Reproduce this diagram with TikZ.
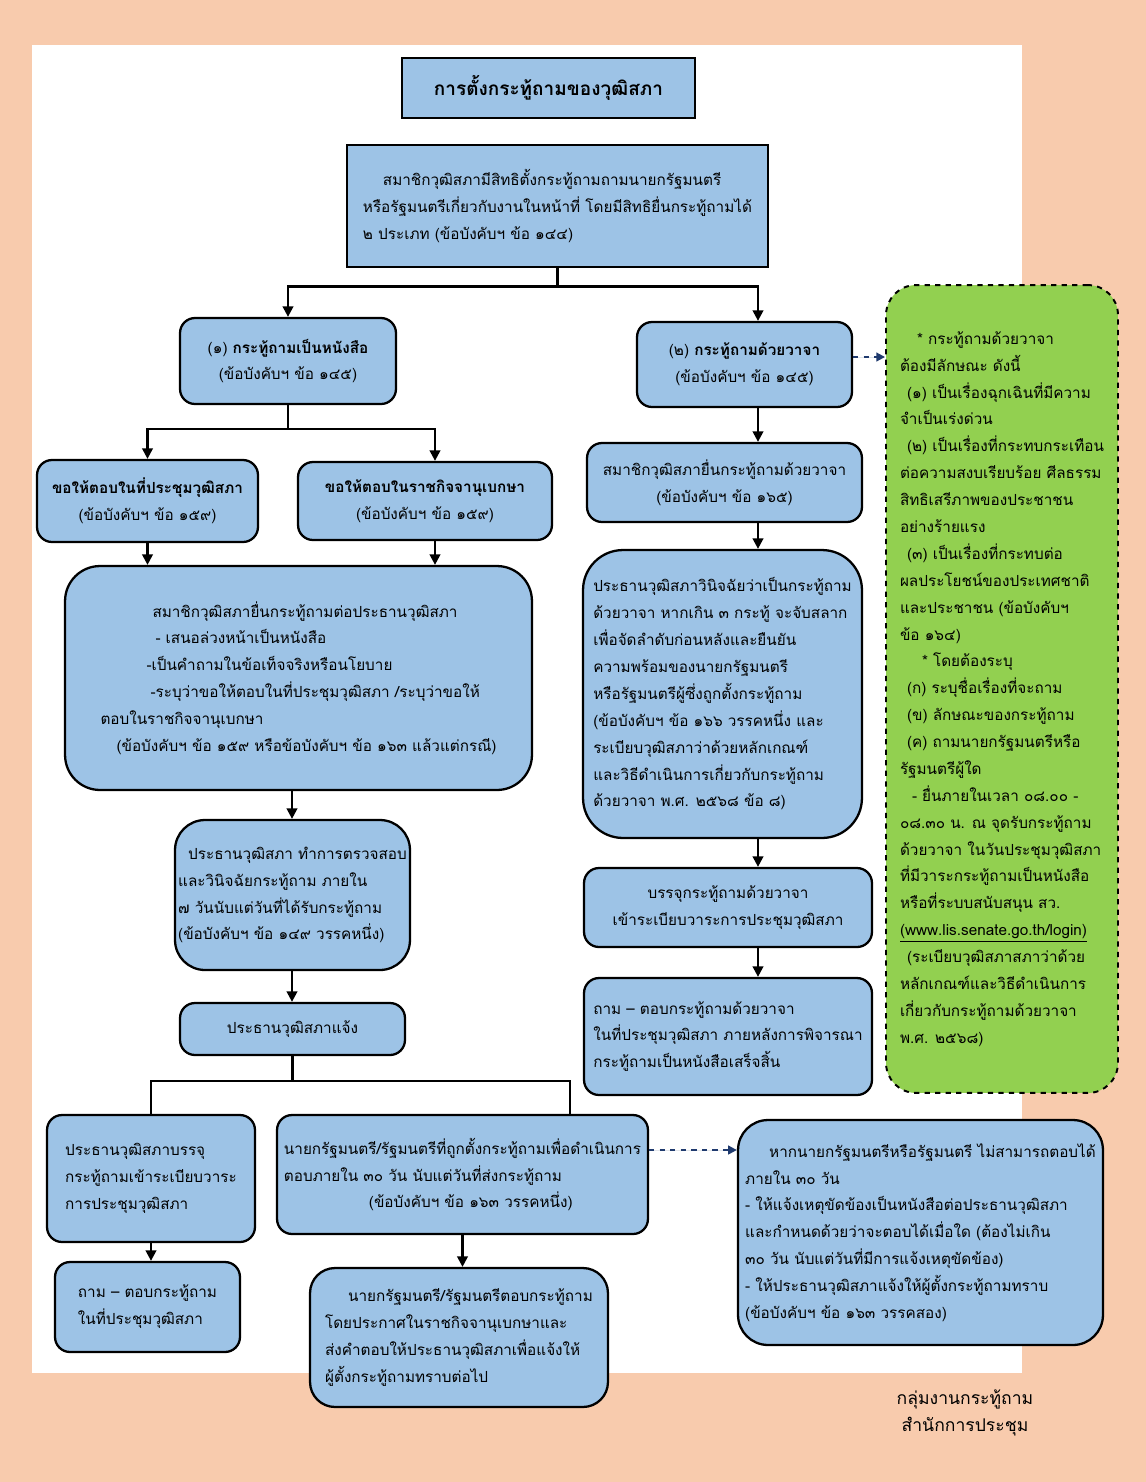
\documentclass[tikz,border=0pt]{standalone}
\usepackage{fontspec}
\setmainfont{Loma}[Script=Thai]
\usetikzlibrary{arrows.meta, positioning, backgrounds, calc}
\definecolor{boxblue}{HTML}{9DC3E6}
\definecolor{notegreen}{HTML}{92D050}
\definecolor{peach}{HTML}{F8CBAD}
\definecolor{navy}{HTML}{1F3A6E}

\begin{document}
\begin{tikzpicture}[
    x=0.02cm, y=-0.02cm,
    font=\fontsize{8.7}{15.3}\selectfont,
    box/.style={
        rectangle, draw=black, line width=1.3pt, rounded corners=0.3cm,
        fill=boxblue, align=left, inner sep=0pt
    },
    flat/.style={box, rounded corners=0pt, line width=1.6pt},
    note/.style={box, fill=notegreen, dashed, line width=1.1pt,
        rounded corners=0.6cm},
    arr/.style={-{Triangle[length=6pt,width=6pt]}, line width=1.3pt},
    line/.style={line width=1.3pt},
    dasharr/.style={-{Triangle[length=5pt,width=5pt]}, dashed,
        line width=1.1pt, draw=navy, fill=navy}
]
\useasboundingbox (0,0) rectangle (1146,1482);

% Page background and white sheet
\fill[peach] (0,0) rectangle (1146,1482);
\fill[white] (32,45) rectangle (1022,1373);

% Heading and introduction
\node[flat, minimum width=5.86cm, minimum height=1.2cm,
    font=\fontsize{10.8}{14}\selectfont\bfseries] (title) at (548.5,88)
    {การตั้งกระทู้ถามของวุฒิสภา};
\node[flat, minimum width=8.42cm, minimum height=2.44cm] (intro) at (557.5,206)
    {\hspace*{0.4cm}สมาชิกวุฒิสภามีสิทธิตั้งกระทู้ถามถามนายกรัฐมนตรี\\
     หรือรัฐมนตรีเกี่ยวกับงานในหน้าที่ โดยมีสิทธิยื่นกระทู้ถามได้\\
     ๒ ประเภท (ข้อบังคับฯ ข้อ ๑๔๔)};

% The two kinds of question
\node[box, align=center, minimum width=4.32cm, minimum height=1.72cm]
    (box1) at (288,361)
    {(๑) \textbf{กระทู้ถามเป็นหนังสือ}\\(ข้อบังคับฯ ข้อ ๑๔๕)};
\node[box, align=center, minimum width=4.3cm, minimum height=1.7cm]
    (box2) at (744.5,364.5)
    {(๒) \textbf{กระทู้ถามด้วยวาจา}\\(ข้อบังคับฯ ข้อ ๑๔๕)};

% Written question branch
\node[box, align=center, minimum width=4.42cm, minimum height=1.64cm]
    (ask1) at (147.5,501)
    {\textbf{ขอให้ตอบในที่ประชุมวุฒิสภา}\\(ข้อบังคับฯ ข้อ ๑๕๙)};
\node[box, align=center, minimum width=5.08cm, minimum height=1.56cm]
    (ask2) at (425,501)
    {\textbf{ขอให้ตอบในราชกิจจานุเบกษา}\\(ข้อบังคับฯ ข้อ ๑๕๙)};
\node[box, rounded corners=0.7cm, minimum width=9.34cm, minimum height=4.48cm]
    (submit) at (298.5,678)
    {\hspace*{1.04cm}สมาชิกวุฒิสภายื่นกระทู้ถามต่อประธานวุฒิสภา\\
     \hspace*{1.1cm}- เสนอล่วงหน้าเป็นหนังสือ\\
     \hspace*{0.92cm}-เป็นคำถามในข้อเท็จจริงหรือนโยบาย\\
     \hspace*{1.0cm}-ระบุว่าขอให้ตอบในที่ประชุมวุฒิสภา /ระบุว่าขอให้\\
     ตอบในราชกิจจานุเบกษา\\
     \hspace*{0.32cm}(ข้อบังคับฯ ข้อ ๑๕๙ หรือข้อบังคับฯ ข้อ ๑๖๓ แล้วแต่กรณี)};
\node[box, rounded corners=0.6cm, minimum width=4.7cm, minimum height=3.0cm]
    (check) at (292.5,895)
    {\hspace*{0.2cm}ประธานวุฒิสภา ทำการตรวจสอบ\\
     และวินิจฉัยกระทู้ถาม ภายใน\\
     ๗ วันนับแต่วันที่ได้รับกระทู้ถาม\\
     (ข้อบังคับฯ ข้อ ๑๔๙ วรรคหนึ่ง)};
\node[box, align=center, minimum width=4.5cm, minimum height=1.04cm]
    (notify) at (292.5,1029) {ประธานวุฒิสภาแจ้ง};
\node[box, minimum width=4.16cm, minimum height=2.54cm] (place) at (151,1178.5)
    {ประธานวุฒิสภาบรรจุ\\กระทู้ถามเข้าระเบียบวาระ\\การประชุมวุฒิสภา};
\node[box, minimum width=7.42cm, minimum height=2.38cm] (answer30)
    at (462.5,1174.5)
    {นายกรัฐมนตรี/รัฐมนตรีที่ถูกตั้งกระทู้ถามเพื่อดำเนินการ\\
     ตอบภายใน ๓๐ วัน นับแต่วันที่ส่งกระทู้ถาม\\
     \hspace*{1.7cm}(ข้อบังคับฯ ข้อ ๑๖๓ วรรคหนึ่ง)};
\node[box, minimum width=3.7cm, minimum height=1.8cm] (qa1) at (147.5,1307)
    {ถาม – ตอบกระทู้ถาม\\ในที่ประชุมวุฒิสภา};
\node[box, rounded corners=0.5cm, minimum width=5.96cm, minimum height=2.78cm]
    (reply) at (459,1337.5)
    {\hspace*{0.46cm}นายกรัฐมนตรี/รัฐมนตรีตอบกระทู้ถาม\\
     โดยประกาศในราชกิจจานุเบกษาและ\\
     ส่งคำตอบให้ประธานวุฒิสภาเพื่อแจ้งให้\\
     ผู้ตั้งกระทู้ถามทราบต่อไป};
\node[box, rounded corners=0.6cm, minimum width=7.3cm, minimum height=4.5cm]
    (late) at (920.5,1232.5)
    {\hspace*{0.48cm}หากนายกรัฐมนตรีหรือรัฐมนตรี ไม่สามารถตอบได้\\
     ภายใน ๓๐ วัน\\
     - ให้แจ้งเหตุขัดข้องเป็นหนังสือต่อประธานวุฒิสภา\\
     และกำหนดด้วยว่าจะตอบได้เมื่อใด (ต้องไม่เกิน\\
     ๓๐ วัน นับแต่วันที่มีการแจ้งเหตุขัดข้อง)\\
     - ให้ประธานวุฒิสภาแจ้งให้ผู้ตั้งกระทู้ถามทราบ\\
     (ข้อบังคับฯ ข้อ ๑๖๓ วรรคสอง)};

% Oral question branch
\node[box, align=center, minimum width=5.5cm, minimum height=1.58cm]
    (oral) at (724.5,482.5)
    {สมาชิกวุฒิสภายื่นกระทู้ถามด้วยวาจา\\(ข้อบังคับฯ ข้อ ๑๖๕)};
\node[box, rounded corners=0.8cm, minimum width=5.58cm, minimum height=5.76cm]
    (decide) at (722.5,694)
    {ประธานวุฒิสภาวินิจฉัยว่าเป็นกระทู้ถาม\\
     ด้วยวาจา หากเกิน ๓ กระทู้ จะจับสลาก\\
     เพื่อจัดลำดับก่อนหลังและยืนยัน\\
     ความพร้อมของนายกรัฐมนตรี\\
     หรือรัฐมนตรีผู้ซึ่งถูกตั้งกระทู้ถาม\\
     (ข้อบังคับฯ ข้อ ๑๖๖ วรรคหนึ่ง และ\\
     ระเบียบวุฒิสภาว่าด้วยหลักเกณฑ์\\
     และวิธีดำเนินการเกี่ยวกับกระทู้ถาม\\
     ด้วยวาจา พ.ศ. ๒๕๖๘ ข้อ ๘)};
\node[box, align=center, minimum width=5.76cm, minimum height=1.58cm]
    (agenda) at (728,907.5)
    {บรรจุกระทู้ถามด้วยวาจา\\เข้าระเบียบวาระการประชุมวุฒิสภา};
\node[box, minimum width=5.76cm, minimum height=2.34cm] (qa2) at (728,1036.5)
    {ถาม – ตอบกระทู้ถามด้วยวาจา\\
     ในที่ประชุมวุฒิสภา ภายหลังการพิจารณา\\
     กระทู้ถามเป็นหนังสือเสร็จสิ้น};

% Conditions for an oral question
\node[note, minimum width=4.64cm, minimum height=16.16cm] (note) at (1002,689)
    {\hspace*{0.34cm}* กระทู้ถามด้วยวาจา\\
     ต้องมีลักษณะ ดังนี้\\
     \hspace*{0.14cm}(๑) เป็นเรื่องฉุกเฉินที่มีความ\\
     จำเป็นเร่งด่วน\\
     \hspace*{0.14cm}(๒) เป็นเรื่องที่กระทบกระเทือน\\
     ต่อความสงบเรียบร้อย ศีลธรรม\\
     สิทธิเสรีภาพของประชาชน\\
     อย่างร้ายแรง\\
     \hspace*{0.14cm}(๓) เป็นเรื่องที่กระทบต่อ\\
     ผลประโยชน์ของประเทศชาติ\\
     และประชาชน (ข้อบังคับฯ\\
     ข้อ ๑๖๔)\\
     \hspace*{0.44cm}* โดยต้องระบุ\\
     \hspace*{0.14cm}(ก) ระบุชื่อเรื่องที่จะถาม\\
     \hspace*{0.14cm}(ข) ลักษณะของกระทู้ถาม\\
     \hspace*{0.14cm}(ค) ถามนายกรัฐมนตรีหรือ\\
     รัฐมนตรีผู้ใด\\
     \hspace*{0.24cm}- ยื่นภายในเวลา ๐๘.๐๐ -\\
     ๐๘.๓๐ น. ณ จุดรับกระทู้ถาม\\
     ด้วยวาจา ในวันประชุมวุฒิสภา\\
     ที่มีวาระกระทู้ถามเป็นหนังสือ\\
     หรือที่ระบบสนับสนุน สว.\\
     \underline{(www.lis.senate.go.th/login)}\\
     \hspace*{0.14cm}(ระเบียบวุฒิสภาสภาว่าด้วย\\
     หลักเกณฑ์และวิธีดำเนินการ\\
     เกี่ยวกับกระทู้ถามด้วยวาจา\\
     พ.ศ. ๒๕๖๘)};

% Footer
\node[align=center, font=\fontsize{10}{15}\selectfont] (footer) at (965,1413)
    {กลุ่มงานกระทู้ถาม\\สำนักการประชุม};

% Column guides
\coordinate (lcol) at (292,0);
\coordinate (rcol) at (758,0);

% Split into the two kinds of question
\coordinate (topfork) at ($(intro.south)+(0,18)$);
\draw[line] (intro.south) -- (topfork);
\draw[arr] (topfork) -| (box1.north);
\draw[arr] (topfork) -| (box2.north -| rcol);

% Written question flow
\coordinate (midfork) at ($(box1.south)+(0,24)$);
\draw[line] (box1.south) -- (midfork);
\draw[arr] (midfork) -| (ask1.north);
\draw[arr] (midfork) -| ([xshift=0.2cm]ask2.north);
\draw[arr] (ask1.south) -- (ask1.south |- submit.north);
\draw[arr] ([xshift=0.2cm]ask2.south) -- ([xshift=0.2cm]ask2.south |- submit.north);
\draw[arr] (submit.south -| lcol) -- (check.north -| lcol);
\draw[arr] (check.south -| lcol) -- (notify.north -| lcol);

\coordinate (lowfork) at ($(notify.south)+(0,25)$);
\draw[line] (notify.south) -- (lowfork);
\draw[line] (lowfork) -| (place.north);
\draw[line] (lowfork) -| ([xshift=2.15cm]answer30.north);
\draw[arr] (place.south) -- (place.south |- qa1.north);
\draw[arr] (answer30.south) -- (answer30.south |- reply.north);
\draw[dasharr] ([yshift=0.49cm]answer30.east)
    -- ([yshift=0.49cm]answer30.east -| late.west);

% Oral question flow
\draw[arr] (box2.south -| rcol) -- (oral.north -| rcol);
\draw[arr] (oral.south -| rcol) -- (decide.north -| rcol);
\draw[arr] (decide.south -| rcol) -- (agenda.north -| rcol);
\draw[arr] (agenda.south -| rcol) -- (qa2.north -| rcol);
\draw[dasharr] ([yshift=0.15cm]box2.east) -- ([yshift=0.15cm]box2.east -| note.west);

\end{tikzpicture}
\end{document}
